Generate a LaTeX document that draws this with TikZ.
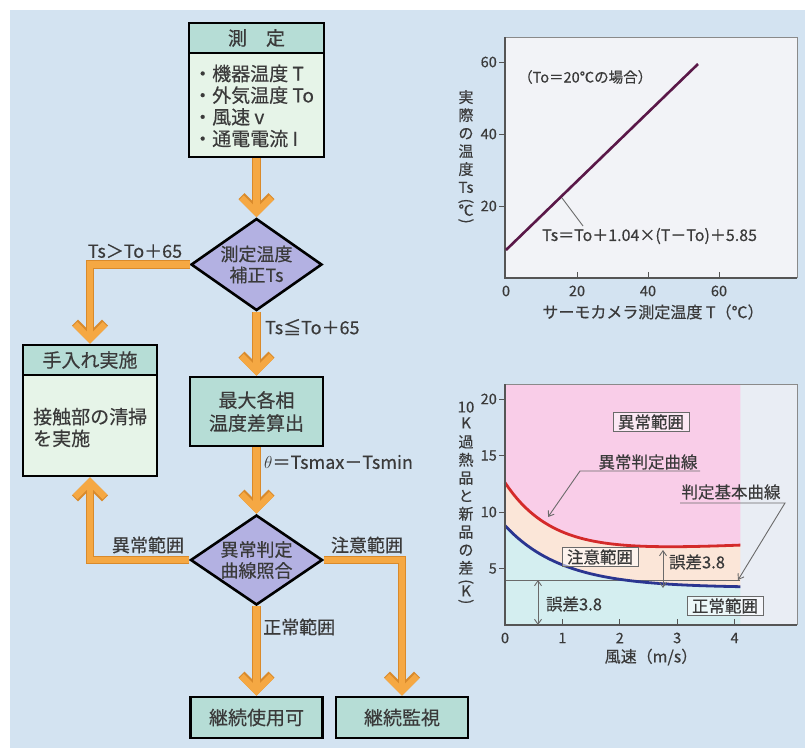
\documentclass[tikz,border=0pt]{standalone}
\usepackage{fontspec}
\usepackage{graphicx}
\setmainfont{Noto Sans CJK JP}[FakeBold=0.4]
\usetikzlibrary{arrows.meta,shapes.geometric,calc}
\definecolor{bgblue}{HTML}{D3E3F1}
\definecolor{hdr}{HTML}{B6DDD6}
\definecolor{bodyc}{HTML}{E6F4E8}
\definecolor{lav}{HTML}{B3B1E2}
\definecolor{flowor}{HTML}{F5A843}
\definecolor{flowdk}{HTML}{D98A2B}
\definecolor{txt}{HTML}{3A3A3A}
\definecolor{plotw}{HTML}{F2F3F7}
\definecolor{plotw2}{HTML}{E9EDF4}
\definecolor{pinkc}{HTML}{F9CDE8}
\definecolor{peach}{HTML}{FBE6D8}
\definecolor{cyanc}{HTML}{D4EEF0}
\definecolor{redc}{HTML}{D42A2A}
\definecolor{bluec}{HTML}{2A3590}
\definecolor{purp}{HTML}{5A1848}
\definecolor{axisg}{HTML}{555555}
\definecolor{frameg}{HTML}{8A8A8A}
\definecolor{leadg}{HTML}{6A6A6A}
\newcommand\fsA{\fontsize{19}{21.7}\selectfont}
\newcommand\fsB{\fontsize{18}{21}\selectfont}
\newcommand\fsC{\fontsize{16.5}{19}\selectfont}
\newcommand\fsD{\fontsize{14.5}{17}\selectfont}
\newcommand\fsE{\fontsize{15}{18}\selectfont}
\newcommand\rpar{\rotatebox[origin=c]{-90}{(}}
\newcommand\rparb{\rotatebox[origin=c]{-90}{)}}
\begin{document}
\begin{tikzpicture}[x=1pt,y=-1pt,
  declare function={rc(\x)=6.0+6.6*exp(-1.2*\x)+0.25*\x; bc(\x)=3.3+5.5*exp(-\x);},
  boxst/.style={draw=black, line width=2.6pt, fill=hdr, inner sep=0pt, text=txt, align=center, font=\fsA},
  dia/.style={diamond, draw=black, line width=2.6pt, fill=lav, inner sep=0pt, text=txt, align=center, font=\fsB, aspect=1.42},
  flow/.style={draw=flowor, line width=6.5pt, -{Straight Barb[length=15pt,width=30pt,line width=6.5pt]},
    preaction={draw=flowdk, line width=8.5pt, -{Straight Barb[length=15pt,width=30pt,line width=8.5pt]}}},
  lbl/.style={text=txt, inner sep=0pt, font=\fsB},
  ctext/.style={text=txt, inner sep=0pt, font=\fsC},
  tickl/.style={text=txt, inner sep=0pt, font=\fsD},
  tagbox/.style={draw=leadg, line width=0.8pt, fill=white, fill opacity=0.55, text opacity=1, inner xsep=5pt, inner ysep=2pt, text=txt, font=\fsC},
  lead/.style={draw=leadg, line width=0.9pt},
  tipb/.tip={Straight Barb[length=5pt,width=7pt]},
]
\path[use as bounding box] (0,0) rectangle (805,748);
\fill[bgblue] (10,10) rectangle (805,748);

% ---------------- flowchart ----------------
\node[boxst, fill=bodyc, minimum width=135pt, minimum height=134pt] (meas) at (256.5,90) {};
\node[boxst, minimum width=135pt, minimum height=30pt] (meash) at (256.5,38) {測　定};
\node[lbl, font=\fsA, anchor=west, align=left] (measi) at (193,106) {・機器温度 T\\・外気温度 To\\・風速 v\\・通電電流 I};

\node[dia, minimum width=131pt, minimum height=92pt] (d1) at (256.5,264.5) {測定温度\\補正Ts};

\node[boxst, fill=bodyc, minimum width=134pt, minimum height=131pt] (kaite) at (90,410.5) {};
\node[boxst, minimum width=134pt, minimum height=30pt] (kaiteh) at (90,360) {手入れ実施};
\node[lbl, font=\fsA, anchor=west, align=left] (kaitet) at (33,427.5) {接触部の清掃\\を実施};

\node[boxst, minimum width=133pt, minimum height=69pt, font=\fontsize{19}{23}\selectfont] (maxb) at (256.5,411.5) {最大各相\\温度差算出};

\node[dia, minimum width=132pt, minimum height=90pt] (d2) at (256.5,560) {異常判定\\曲線照合};

\node[boxst, minimum width=132pt, minimum height=41pt] (shiyou) at (256.5,717.5) {継続使用可};
\node[boxst, minimum width=132pt, minimum height=41pt] (kanshi) at (402,717.5) {継続監視};

\draw[flow] (meas.south) -- (d1.north);
\draw[flow] (d1.west) -| (kaite.north);
\draw[flow] (d1.south) -- (maxb.north);
\draw[flow] (maxb.south) -- (d2.north);
\draw[flow] (d2.west) -| (kaite.south);
\draw[flow] (d2.east) -| (kanshi.north);
\draw[flow] (d2.south) -- (shiyou.north);

\node[lbl] (l1) at (135,251) {Ts＞To＋65};
\node[lbl, anchor=west] (l2) at (265,327) {Ts≦To＋65};
\node[lbl, anchor=west] (l3) at (264,462) {$\theta$＝Tsmax－Tsmin};
\node[lbl] (l4) at (148,545) {異常範囲};
\node[lbl] (l5) at (367,545) {注意範囲};
\node[lbl, anchor=west] (l6) at (263,627) {正常範囲};

% ---------------- chart 1 ----------------
\fill[plotw] (505,37) rectangle (797,278);
\draw[frameg, line width=0.8pt] (505,37) -- (797,37) -- (797,278);
\draw[axisg, line width=1.3pt] (505,37) -- (505,278) -- (797,278);
\foreach \v/\yy in {20/206,40/134,60/62} {
  \draw[axisg, line width=1pt] (499,\yy) -- (505,\yy);
  \node[tickl, anchor=east] (c1y\v) at (497,\yy) {\v};
}
\foreach \v/\xx in {20/577,40/648,60/719} {
  \draw[axisg, line width=1pt] (\xx,278) -- (\xx,272);
}
\foreach \v/\xx in {0/506,20/577,40/648,60/719} {
  \node[tickl] (c1x\v) at (\xx,291) {\v};
}
\draw[purp, line width=2.6pt] (506,250) -- (698,64);
\coordinate (c1p) at (562,198);
\coordinate (c1q) at (583,226);
\draw[lead] (c1p) -- (c1q);
\node[ctext, font=\fontsize{16}{19}\selectfont, anchor=west] (c1eq) at (542,236) {Ts＝To＋1.04×(T－To)＋5.85};
\node[ctext, font=\fontsize{14.5}{17}\selectfont, anchor=west] (c1note) at (518,77) {（To＝20℃の場合）};
\node[ctext, font=\fsE, align=center] (c1yl) at (466,158) {実\\際\\の\\温\\度\\Ts\\[-5pt]\rpar\\[-8pt]℃\\[-8pt]\rparb};
\node[ctext, font=\fontsize{16}{19}\selectfont] (c1xl) at (653,312) {サーモカメラ測定温度 T（℃）};

% ---------------- chart 2 ----------------
\fill[plotw2] (505,384) rectangle (797,625);
\fill[pinkc] (505,384) -- plot[domain=0:4.1,samples=60] ({505+57.4*\x},{625-11.3*rc(\x)}) -- (740.3,384) -- cycle;
\fill[peach] plot[domain=0:4.1,samples=60] ({505+57.4*\x},{625-11.3*rc(\x)}) -- plot[domain=4.1:0,samples=60] ({505+57.4*\x},{625-11.3*bc(\x)}) -- cycle;
\fill[cyanc] (505,625) -- plot[domain=0:4.1,samples=60] ({505+57.4*\x},{625-11.3*bc(\x)}) -- (740.3,625) -- cycle;
\draw[leadg, line width=0.9pt] (505,580) -- (740,580);
\draw[redc, line width=2.8pt] plot[domain=0:4.1,samples=60] ({505+57.4*\x},{625-11.3*rc(\x)});
\draw[bluec, line width=2.8pt] plot[domain=0:4.1,samples=60] ({505+57.4*\x},{625-11.3*bc(\x)});
\draw[frameg, line width=0.8pt] (505,384) -- (797,384) -- (797,625);
\draw[axisg, line width=1.3pt] (505,384) -- (505,625) -- (797,625);
\foreach \v/\yy in {5/568.5,10/512,15/455.5,20/399} {
  \draw[axisg, line width=1pt] (499,\yy) -- (505,\yy);
  \node[tickl, anchor=east] (c2y\v) at (497,\yy) {\v};
}
\foreach \v/\xx in {1/562.4,2/619.8,3/677.2,4/734.6} {
  \draw[axisg, line width=1pt] (\xx,625) -- (\xx,619);
}
\foreach \v/\xx in {0/505,1/562.4,2/619.8,3/677.2,4/734.6} {
  \node[tickl] (c2x\v) at (\xx,638) {\v};
}
\node[tagbox] (t1) at (651,422) {異常範囲};
\node[tagbox] (t2) at (600,557) {注意範囲};
\node[tagbox] (t3) at (725,606) {正常範囲};
\node[ctext] (t4) at (648,462) {異常判定曲線};
\coordinate (u1a) at (700,471);
\coordinate (u1b) at (580,471);
\coordinate (u1c) at (548,517);
\draw[lead, -tipb] (u1a) -- (u1b) -- (u1c);
\node[ctext] (t5) at (731,492) {判定基本曲線};
\coordinate (u2a) at (680,503);
\coordinate (u2b) at (785,503);
\coordinate (u2c) at (738,580);
\draw[lead, -tipb] (u2a) -- (u2b) -- (u2c);
\coordinate (e1a) at (538,580);
\coordinate (e1b) at (538,625);
\draw[lead, tipb-tipb] (e1a) -- (e1b);
\node[ctext] (t6) at (574,604) {誤差3.8};
\coordinate (e2a) at (663,550);
\coordinate (e2b) at (663,588);
\draw[lead, tipb-tipb] (e2a) -- (e2b);
\node[ctext] (t7) at (697,562) {誤差3.8};
\node[ctext, font=\fsE, align=center] (c2yl) at (466,504) {10\\[-2pt]K\\[1pt]過\\熱\\品\\と\\新\\品\\の\\差\\[-5pt]\rpar\\[-8pt]K\\[-8pt]\rparb};
\node[ctext, font=\fontsize{16}{19}\selectfont] (c2xl) at (651,657) {風速（m/s）};
\end{tikzpicture}
\end{document}
